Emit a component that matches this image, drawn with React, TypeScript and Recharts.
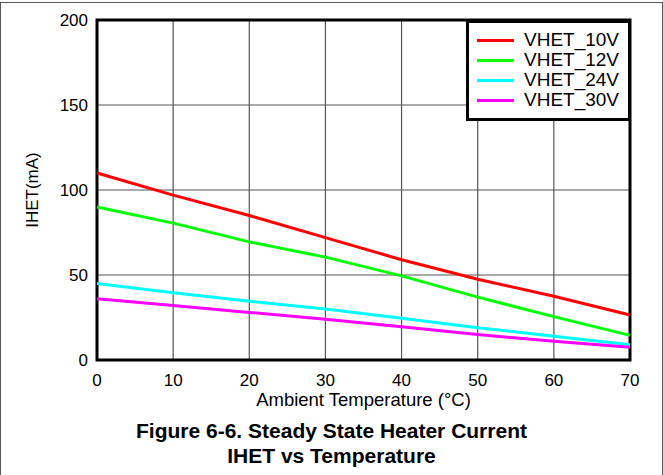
import React from "react";
import { LineChart, Line, XAxis, YAxis, CartesianGrid, Legend, ReferenceArea } from "recharts";

// ambient temperature (°C)
const temps = [0, 10, 20, 30, 40, 50, 60, 70];
// heater current IHET (mA) per supply voltage
const vhet10 = [110, 97, 85, 72, 59, 47.5, 37.5, 26.5];
const vhet12 = [90, 80.5, 69.5, 60.5, 49.5, 37, 25.5, 14.5];
const vhet24 = [45, 39.5, 34.5, 30, 24.5, 19, 14, 9];
const vhet30 = [36, 32, 28, 24, 19.5, 15, 11, 7.5];

const xTicks = [0, 10, 20, 30, 40, 50, 60, 70];
const yTicks = [0, 50, 100, 150, 200];

const seriesNames = ["VHET_10V", "VHET_12V", "VHET_24V", "VHET_30V"];
const seriesColors = ["#ff0000", "#00ff00", "#00ffff", "#ff00ff"];

const chartData = temps.map((t, i) => ({
    temp: t,
    v10: vhet10[i],
    v12: vhet12[i],
    v24: vhet24[i],
    v30: vhet30[i],
}));

const FONT = "'Liberation Sans', Arial, sans-serif";

function YLabel(props: any) {
    const vb = props.viewBox || { x: 0, y: 0, width: 0, height: 0 };
    const cx = vb.x + 32;
    const cy = vb.y + vb.height / 2;
    return (
        <text
            x={cx}
            y={cy}
            transform={`rotate(-90, ${cx}, ${cy})`}
            textAnchor="middle"
            dominantBaseline="central"
            fontSize={17}
            fontFamily={FONT}
            fill="#000"
        >
            IHET(mA)
        </text>
    );
}

function LegendBox(props: any) {
    const payload = props.payload || [];
    return (
        <div
            style={{
                boxSizing: "border-box",
                width: 165,
                height: 101,
                border: "3px solid #000",
                background: "#fff",
                paddingTop: 7,
                fontFamily: FONT,
            }}
        >
            {payload.map((entry: any) => (
                <div key={entry.value} style={{ display: "flex", alignItems: "center", height: 20 }}>
                    <div style={{ width: 37, height: 3, marginLeft: 8, background: entry.color }} />
                    <span style={{ marginLeft: 10, fontSize: 19, lineHeight: "20px", color: "#000" }}>{entry.value}</span>
                </div>
            ))}
        </div>
    );
}

export default function App() {
    return (
        <div style={{ position: "absolute", left: 0, top: 0, width: 663, height: 475, background: "#fff" }}>
            <div
                style={{
                    position: "absolute",
                    left: 0,
                    top: 2,
                    width: 663,
                    height: 473,
                    boxSizing: "border-box",
                    borderTop: "1px solid #555",
                    borderLeft: "1px solid #555",
                    borderRight: "1px solid #555",
                }}
            />
            <div style={{ position: "absolute", left: 0, top: 0 }}>
                <LineChart
                    width={663}
                    height={420}
                    data={chartData}
                    margin={{ top: 20, right: 33, left: 0, bottom: 30 }}
                    style={{ fontFamily: FONT }}
                >
                    <CartesianGrid stroke="#555" strokeWidth={1.2} />
                    <XAxis
                        dataKey="temp"
                        type="number"
                        domain={[0, 70]}
                        ticks={xTicks}
                        height={30}
                        axisLine={false}
                        tickLine={false}
                        tickSize={6}
                        tickMargin={8}
                        tick={{ fontSize: 17, fill: "#000" }}
                        label={{ value: "Ambient Temperature (°C)", position: "bottom", offset: 3, fontSize: 18.5, fill: "#000" }}
                    />
                    <YAxis
                        type="number"
                        domain={[0, 200]}
                        ticks={yTicks}
                        width={97}
                        axisLine={false}
                        tickLine={false}
                        tickSize={6}
                        tickMargin={3}
                        tick={{ fontSize: 17, fill: "#000" }}
                        label={<YLabel />}
                    />
                    <Legend
                        layout="vertical"
                        align="center"
                        verticalAlign="middle"
                        content={<LegendBox />}
                        wrapperStyle={{ top: 20, left: 466, width: 165, height: 101 }}
                    />
                    <Line name={seriesNames[0]} dataKey="v10" type="linear" stroke={seriesColors[0]} strokeWidth={3} dot={false} isAnimationActive={false} />
                    <Line name={seriesNames[1]} dataKey="v12" type="linear" stroke={seriesColors[1]} strokeWidth={3} dot={false} isAnimationActive={false} />
                    <Line name={seriesNames[2]} dataKey="v24" type="linear" stroke={seriesColors[2]} strokeWidth={3} dot={false} isAnimationActive={false} />
                    <Line name={seriesNames[3]} dataKey="v30" type="linear" stroke={seriesColors[3]} strokeWidth={3} dot={false} isAnimationActive={false} />
                    <ReferenceArea x1={0} x2={70} y1={0} y2={200} fill="none" stroke="#000" strokeWidth={3} />
                </LineChart>
            </div>
            <div
                style={{
                    position: "absolute",
                    left: 0,
                    top: 418,
                    width: 663,
                    textAlign: "center",
                    fontFamily: FONT,
                    fontWeight: "bold",
                    fontSize: 21,
                    lineHeight: "25px",
                    color: "#000",
                }}
            >
                <div>Figure 6-6. Steady State Heater Current</div>
                <div>IHET vs Temperature</div>
            </div>
        </div>
    );
}
